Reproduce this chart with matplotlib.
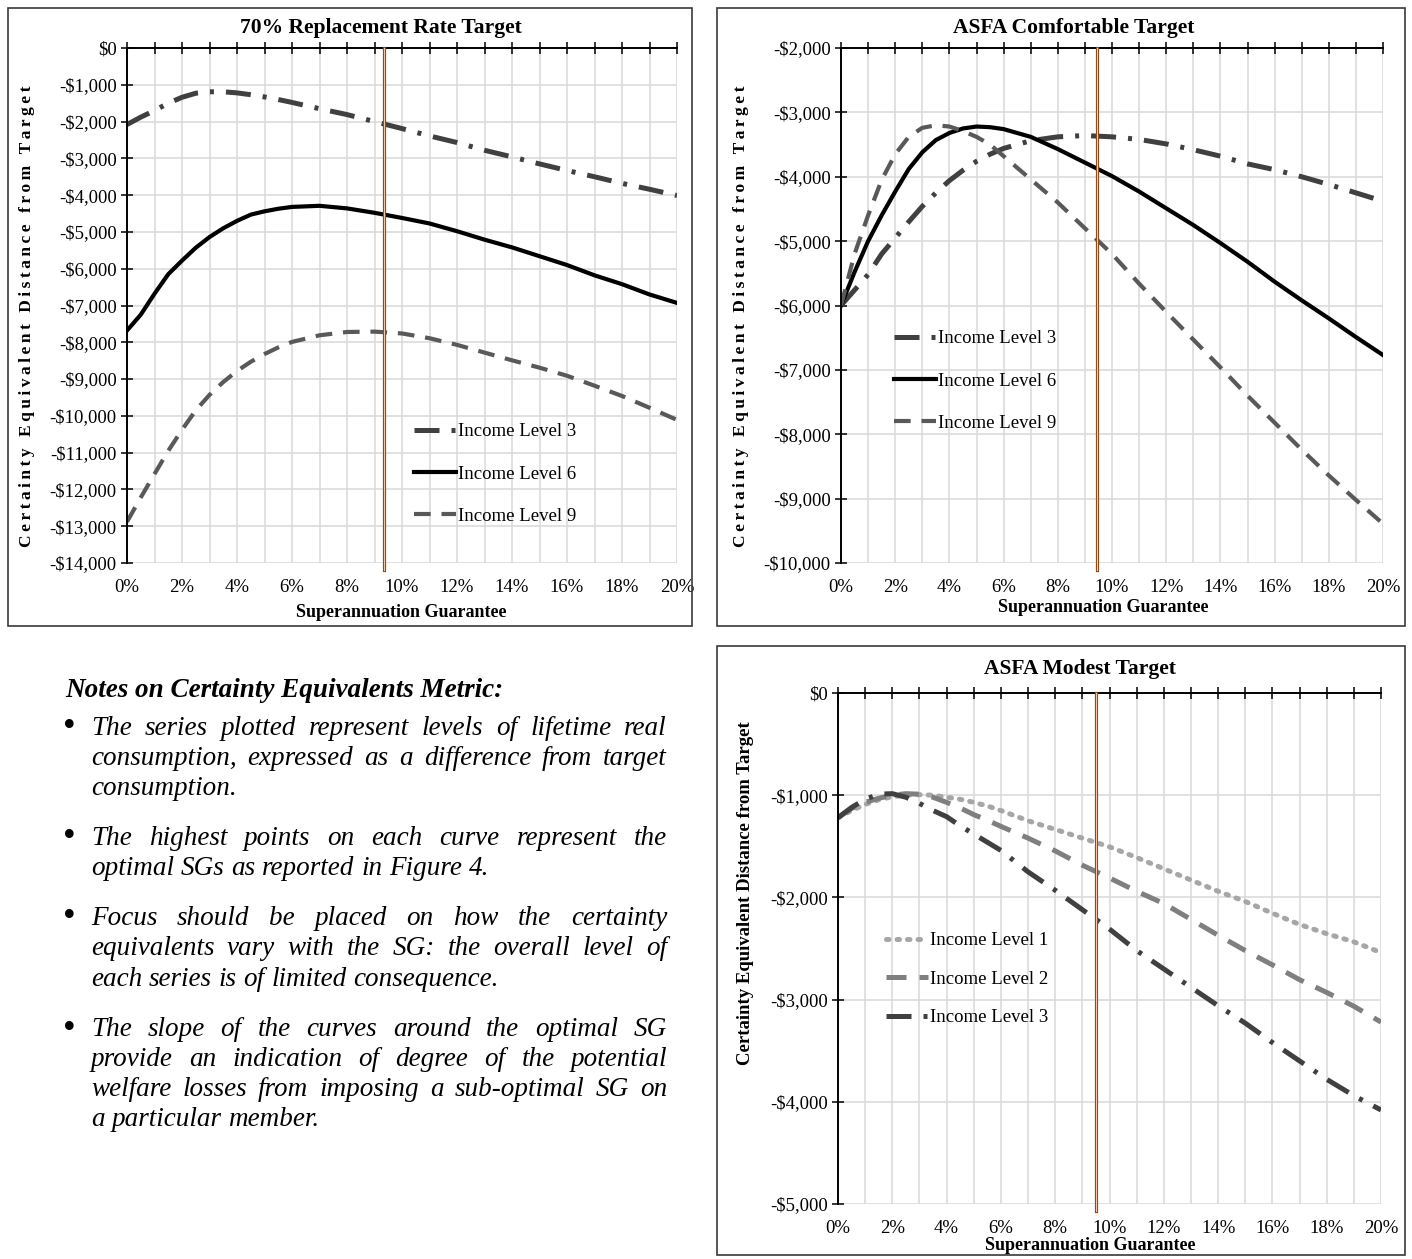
import matplotlib
matplotlib.use('Agg')
import matplotlib.pyplot as plt
from matplotlib.patches import Rectangle
from matplotlib.ticker import MultipleLocator, FuncFormatter

# superannuation guarantee grid (%)
sg = [0, 0.5, 1, 1.5, 2, 2.5, 3, 3.5, 4, 4.5, 5, 5.5, 6,
      7, 8, 9, 10, 11, 12, 13, 14, 15, 16, 17, 18, 19, 20]
# current SG marker as drawn on each panel
sg_marker = [9.35, 9.45, 9.5]

# 70% replacement rate target
rr_level3 = [-2080, -1880, -1700, -1500, -1340, -1230, -1190, -1190, -1220, -1270, -1330, -1400, -1480,
             -1650, -1810, -2000, -2190, -2390, -2570, -2780, -2960, -3150, -3330, -3500, -3680, -3840, -4010]
rr_level6 = [-7680, -7250, -6680, -6150, -5780, -5430, -5140, -4900, -4700, -4530, -4440, -4370, -4320,
             -4290, -4360, -4480, -4620, -4770, -4980, -5210, -5420, -5660, -5900, -6180, -6420, -6700, -6930]
rr_level9 = [-12880, -12220, -11580, -10950, -10380, -9850, -9430, -9080, -8780, -8530, -8320, -8140, -7990,
             -7810, -7720, -7710, -7760, -7890, -8070, -8280, -8490, -8690, -8910, -9180, -9460, -9780, -10110]

# ASFA comfortable target
comf_level3 = [-6000, -5760, -5520, -5200, -4950, -4700, -4460, -4250, -4060, -3900, -3760, -3650, -3560,
               -3440, -3380, -3360, -3380, -3420, -3490, -3580, -3680, -3800, -3890, -4000, -4120, -4250, -4380]
comf_level6 = [-6000, -5480, -5000, -4600, -4230, -3880, -3620, -3430, -3320, -3250, -3220, -3230, -3260,
               -3380, -3570, -3780, -3990, -4230, -4490, -4750, -5030, -5320, -5630, -5920, -6200, -6490, -6770]
comf_level9 = [-6000, -5200, -4600, -4050, -3650, -3380, -3240, -3200, -3220, -3290, -3380, -3500, -3680,
               -4040, -4400, -4800, -5200, -5660, -6100, -6530, -6960, -7400, -7820, -8240, -8640, -9020, -9390]

# ASFA modest target
mod_level1 = [-1220, -1150, -1090, -1045, -1015, -1000, -995, -1000, -1020, -1040, -1070, -1105, -1150,
              -1250, -1335, -1420, -1505, -1610, -1720, -1830, -1940, -2040, -2155, -2265, -2355, -2435, -2540]
mod_level2 = [-1220, -1130, -1070, -1030, -1000, -985, -990, -1020, -1070, -1125, -1190, -1245, -1305,
              -1420, -1545, -1685, -1810, -1940, -2060, -2215, -2370, -2520, -2660, -2805, -2930, -3065, -3220]
mod_level3 = [-1220, -1120, -1040, -990, -985, -1020, -1080, -1150, -1210, -1300, -1380, -1460, -1540,
              -1750, -1930, -2120, -2310, -2520, -2700, -2880, -3060, -3230, -3420, -3600, -3780, -3940, -4080]

notes_title = "Notes on Certainty Equivalents Metric:"
notes = [
    ["The series plotted represent levels of lifetime real",
     "consumption, expressed as a difference from target",
     "consumption."],
    ["The highest points on each curve represent the",
     "optimal SGs as reported in Figure 4."],
    ["Focus should be placed on how the certainty",
     "equivalents vary with the SG: the overall level of",
     "each series is of limited consequence."],
    ["The slope of the curves around the optimal SG",
     "provide an indication of degree of the potential",
     "welfare losses from imposing a sub-optimal SG on",
     "a particular member."],
]

W, H = 1412, 1259
plt.rcParams['font.family'] = ['Liberation Serif', 'DejaVu Serif']
fig = plt.figure(figsize=(W / 100, H / 100), dpi=100)

YLABEL = "Certainty Equivalent Distance from Target"
DASHDOT = (5, 2.4, 0.8, 2.4)
DASHED = (4, 2.6)
DOTTED = (0.5, 1.6)


def fx(x):
    return x / W


def fy(y):
    return 1 - y / H


def money(v, pos):
    v = int(round(v))
    if v == 0:
        return '$0'
    return '-${:,}'.format(abs(v))


def make_axes(l, t, r, b, ymin, ymax, ystep, marker):
    ax = fig.add_axes([fx(l), fy(b), (r - l) / W, (b - t) / H])
    ax.set_xlim(0, 20)
    ax.set_ylim(ymin, ymax)
    ax.xaxis.set_major_locator(MultipleLocator(2))
    ax.xaxis.set_minor_locator(MultipleLocator(1))
    ax.xaxis.set_major_formatter(FuncFormatter(lambda v, p: f'{int(round(v))}%'))
    ax.yaxis.set_major_locator(MultipleLocator(ystep))
    ax.yaxis.set_major_formatter(FuncFormatter(money))
    ax.grid(True, which='both', axis='x', color='#d9d9d9', lw=1.1)
    ax.grid(True, which='major', axis='y', color='#d9d9d9', lw=1.1)
    ax.set_axisbelow(True)
    for s in ('right', 'bottom'):
        ax.spines[s].set_visible(False)
    for s in ('top', 'left'):
        ax.spines[s].set_linewidth(1.4)
        ax.spines[s].set_color('black')
    ax.tick_params(axis='x', which='both', top=True, bottom=False, labeltop=False,
                   labelbottom=True, direction='inout', length=9, width=1.1,
                   labelsize=13.5, pad=7)
    ax.tick_params(axis='y', which='major', direction='inout', length=9, width=1.1,
                   labelsize=13.5, pad=3)
    # current SG marker: brown outline with a pale core
    ax.axvline(marker, ymin=-0.013, ymax=1, clip_on=False, color='#8b4513', lw=2.3, zorder=5)
    ax.axvline(marker, ymin=-0.013, ymax=1, clip_on=False, color='#f4c7a8', lw=0.8, zorder=6)
    return ax


def frame(l, t, r, b):
    fig.add_artist(Rectangle((fx(l), fy(b)), (r - l) / W, (b - t) / H, transform=fig.transFigure,
                             fill=False, ec='#3a3a3a', lw=1.2))


def legend(ax, handles, x, y, spacing):
    ax.legend(handles=handles, loc='center left', bbox_to_anchor=(fx(x), fy(y)),
              bbox_transform=fig.transFigure, frameon=False, fontsize=13.5,
              handlelength=2.2, handletextpad=0.1, labelspacing=spacing, borderpad=0)


def spaced(s):
    return '\u2009'.join(s)


# ---------- top left: 70% replacement rate ----------
frame(8, 8, 692, 626)
ax1 = make_axes(127, 48, 677, 563, -14000, 0, 1000, sg_marker[0])
h3, = ax1.plot(sg, rr_level3, color='#404040', lw=3.6, dashes=DASHDOT, label='Income Level 3')
h6, = ax1.plot(sg, rr_level6, color='black', lw=3.0, label='Income Level 6')
h9, = ax1.plot(sg, rr_level9, color='#595959', lw=3.0, dashes=DASHED, label='Income Level 9')
legend(ax1, [h3, h6, h9], 405, 474, 1.35)
fig.text(fx(381), fy(28), "70% Replacement Rate Target", ha='center', va='center',
         fontsize=15.5, fontweight='bold')
fig.text(fx(401), fy(612), "Superannuation Guarantee", ha='center', va='center',
         fontsize=13, fontweight='bold')
fig.text(fx(27), fy(316), spaced(YLABEL), ha='center', va='center', rotation=90,
         fontsize=12.5, fontweight='bold')

# ---------- top right: ASFA comfortable ----------
frame(717, 8, 1405, 626)
ax2 = make_axes(841, 48, 1383, 563, -10000, -2000, 1000, sg_marker[1])
c3, = ax2.plot(sg, comf_level3, color='#404040', lw=3.6, dashes=DASHDOT, label='Income Level 3')
c6, = ax2.plot(sg, comf_level6, color='black', lw=3.0, label='Income Level 6')
c9, = ax2.plot(sg, comf_level9, color='#595959', lw=3.0, dashes=DASHED, label='Income Level 9')
legend(ax2, [c3, c6, c9], 885, 381, 1.35)
fig.text(fx(1074), fy(28), "ASFA Comfortable Target", ha='center', va='center',
         fontsize=15.5, fontweight='bold')
fig.text(fx(1103), fy(607), "Superannuation Guarantee", ha='center', va='center',
         fontsize=13, fontweight='bold')
fig.text(fx(741), fy(316), spaced(YLABEL), ha='center', va='center', rotation=90,
         fontsize=12.5, fontweight='bold')

# ---------- bottom right: ASFA modest ----------
frame(717, 646, 1405, 1255)
ax3 = make_axes(838, 693, 1381, 1204, -5000, 0, 1000, sg_marker[2])
m1, = ax3.plot(sg, mod_level1, color='#a6a6a6', lw=3.6, dashes=DOTTED, dash_capstyle='round',
               label='Income Level 1')
m2, = ax3.plot(sg, mod_level2, color='#7f7f7f', lw=3.6, dashes=DASHED, label='Income Level 2')
m3, = ax3.plot(sg, mod_level3, color='#404040', lw=3.6, dashes=DASHDOT, label='Income Level 3')
legend(ax3, [m1, m2, m3], 877, 979, 1.14)
fig.text(fx(1080), fy(669), "ASFA Modest Target", ha='center', va='center',
         fontsize=15.5, fontweight='bold')
fig.text(fx(1090), fy(1245), "Superannuation Guarantee", ha='center', va='center',
         fontsize=13, fontweight='bold')
fig.text(fx(745), fy(893), YLABEL, ha='center', va='center', rotation=90,
         fontsize=13.5, fontweight='bold')

# ---------- notes (justified text) ----------
renderer = fig.canvas.get_renderer()
TEXT_L, TEXT_R = 91, 667
BODY_SIZE = 19.5
fig.text(fx(65), fy(697), notes_title, ha='left', va='baseline', fontsize=BODY_SIZE,
         fontweight='bold', fontstyle='italic')

baselines = [[735, 765, 795], [845, 875], [925, 955, 986], [1036, 1066, 1096, 1126]]
for para, ys in zip(notes, baselines):
    fig.text(fx(69), fy(ys[0] - 7), '\u2022', ha='center', va='center', fontsize=26)
    for i, (line, y) in enumerate(zip(para, ys)):
        words = line.split()
        texts = [fig.text(0, fy(y), w, ha='left', va='baseline', fontsize=BODY_SIZE,
                          fontstyle='italic') for w in words]
        widths = [t.get_window_extent(renderer=renderer).width for t in texts]
        last = i == len(para) - 1
        if last or len(words) == 1:
            space = fig.text(0, 0, 'a a', fontsize=BODY_SIZE, fontstyle='italic')
            two = fig.text(0, 0, 'aa', fontsize=BODY_SIZE, fontstyle='italic')
            gap = space.get_window_extent(renderer=renderer).width - \
                two.get_window_extent(renderer=renderer).width
            space.remove()
            two.remove()
        else:
            gap = (TEXT_R - TEXT_L - sum(widths)) / (len(words) - 1)
        x = TEXT_L
        for t, w in zip(texts, widths):
            t.set_x(fx(x))
            x += w + gap

fig.savefig('out.png', dpi=100)
